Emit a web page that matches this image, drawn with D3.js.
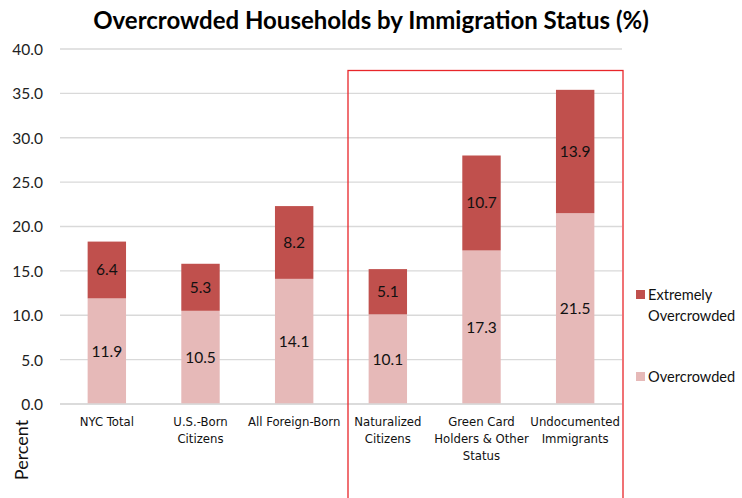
<!DOCTYPE html>
<html><head><meta charset="utf-8">
<script src="https://cdn.jsdelivr.net/npm/d3@7/dist/d3.min.js"></script>
<style>body{margin:0;background:#fff}svg{display:block}</style>
</head><body><svg id="c" width="742" height="498"></svg>
<script>
const categories = [["NYC Total"],["U.S.-Born","Citizens"],["All Foreign-Born"],["Naturalized","Citizens"],["Green Card","Holders & Other","Status"],["Undocumented","Immigrants"]];
const overcrowded = [11.9, 10.5, 14.1, 10.1, 17.3, 21.5];
const extremely = [6.4, 5.3, 8.2, 5.1, 10.7, 13.9];
const yTicks = [0,5,10,15,20,25,30,35,40];
const seriesNames = ["Extremely Overcrowded","Overcrowded"];

const svg = d3.select("#c");
const narrow = "'Liberation Sans Narrow','DejaVu Sans Condensed',Arial,sans-serif";
const body = "Lato,'Open Sans',sans-serif";
const x = d3.scaleBand().domain(d3.range(categories.length)).range([60,622]).paddingInner(0.59).paddingOuter(0.295);
const y = d3.scaleLinear().domain([0,40]).range([404,49]);

svg.append("text").attr("x",371).attr("y",29).attr("text-anchor","middle")
  .attr("font-family",body).attr("font-weight","bold").attr("font-size",24).attr("fill","#000")
  .text("Overcrowded Households by Immigration Status (%)");

// grid
svg.append("g").selectAll("line").data(yTicks).join("line")
  .attr("x1",60).attr("x2",622).attr("y1",d=>y(d)).attr("y2",d=>y(d))
  .attr("stroke","#d9d9d9").attr("stroke-width",1.3);
const yAxis = svg.append("g").attr("transform","translate(46,0)")
  .call(d3.axisLeft(y).tickValues(yTicks).tickFormat(d3.format(".1f")).tickSize(0));
yAxis.select(".domain").remove();
yAxis.selectAll("text").attr("font-family",body).attr("font-size",15.5).attr("fill","#222").attr("dy","0.35em");

const idx = d3.range(categories.length);
const light = "#E6B9B8", dark = "#C0504D";
svg.append("g").selectAll("rect").data(idx).join("rect")
  .attr("x",i=>x(i)).attr("width",x.bandwidth())
  .attr("y",i=>y(overcrowded[i])).attr("height",i=>y(0)-y(overcrowded[i])).attr("fill",light);
svg.append("g").selectAll("rect").data(idx).join("rect")
  .attr("x",i=>x(i)).attr("width",x.bandwidth())
  .attr("y",i=>y(overcrowded[i]+extremely[i])).attr("height",i=>y(overcrowded[i])-y(overcrowded[i]+extremely[i])).attr("fill",dark);
// baseline
svg.append("line").attr("x1",60).attr("x2",622).attr("y1",y(0)).attr("y2",y(0)).attr("stroke","#d9d9d9").attr("stroke-width",1.5);

// data labels
svg.append("g").selectAll("text").data(idx).join("text")
  .attr("x",i=>x(i)+x.bandwidth()/2).attr("y",i=>y(overcrowded[i]/2)).attr("dy","0.35em")
  .attr("text-anchor","middle").attr("font-family",body).attr("font-size",15.5).attr("fill","#111")
  .text(i=>overcrowded[i].toFixed(1));
svg.append("g").selectAll("text").data(idx).join("text")
  .attr("x",i=>x(i)+x.bandwidth()/2).attr("y",i=>y(overcrowded[i]+extremely[i]/2)).attr("dy","0.35em")
  .attr("text-anchor","middle").attr("font-family",body).attr("font-size",15.5).attr("fill","#111")
  .text(i=>extremely[i].toFixed(1));

// category labels
const cl = svg.append("g").selectAll("text").data(idx).join("text")
  .attr("text-anchor","middle").attr("font-family",narrow).attr("font-size",13).attr("fill","#111");
cl.each(function(i){
  const t = d3.select(this);
  categories[i].forEach((s,k)=>t.append("tspan").attr("x",x(i)+x.bandwidth()/2).attr("y",426+k*17).text(s));
});

// highlight box
svg.append("rect").attr("x",348).attr("y",70.5).attr("width",275).attr("height",440)
  .attr("fill","none").attr("stroke","#E8262A").attr("stroke-width",1.3);

// y title
svg.append("text").attr("transform","translate(28,450) rotate(-90)").attr("text-anchor","middle")
  .attr("font-family",body).attr("font-size",18).attr("fill","#111").text("Percent");

// legend
const lg = svg.append("g");
lg.append("rect").attr("x",636).attr("y",290).attr("width",9).attr("height",9).attr("fill",dark);
lg.append("text").attr("x",648).attr("y",300).attr("font-family",body).attr("font-size",14.6).attr("fill","#111")
  .call(t=>{t.append("tspan").attr("x",648).text("Extremely");t.append("tspan").attr("x",648).attr("y",321).text("Overcrowded");});
lg.append("rect").attr("x",636).attr("y",372).attr("width",9).attr("height",9).attr("fill",light);
lg.append("text").attr("x",648).attr("y",382).attr("font-family",body).attr("font-size",14.6).attr("fill","#111").text("Overcrowded");
</script></body></html>
